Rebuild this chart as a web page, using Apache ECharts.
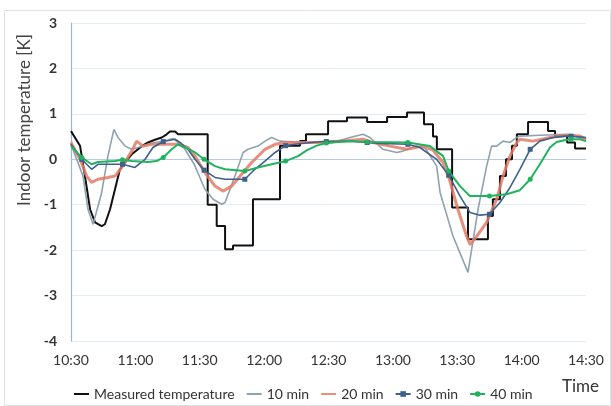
<!DOCTYPE html>
<html>
<head>
<meta charset="utf-8">
<script src="https://cdn.jsdelivr.net/npm/echarts@6/dist/echarts.min.js"></script>
<style>
html,body{margin:0;padding:0;background:#fff;}
#chart{width:611px;height:406px;}
</style>
</head>
<body>
<div id="chart"></div>
<script>
// Time axis: minutes after 10:30
const tickLabels = ['10:30','11:00','11:30','12:00','12:30','13:00','13:30','14:00','14:30'];
const seriesNames = ['Measured temperature','10 min','20 min','30 min','40 min'];
const yTitle = 'Indoor temperature [K]';
const xTitle = 'Time';

const measuredT = [0,4.2,6.5,8.9,11.2,14.3,15.8,18.2,20.5,22.8,25.2,28.3,33,35.9,39.1,42.3,44.6,46.1,48.5,49.9,63.7,63.7,67.9,67.9,71.8,71.8,75.5,75.5,84.8,84.8,97.4,97.4,106.7,106.7,109.5,109.5,119.8,119.8,128.6,128.6,138,138,147.3,147.3,156.6,156.6,164.5,164.5,168.7,168.7,170.5,170.5,177.6,177.6,185,185,194.3,194.3,196.6,196.6,199.9,199.9,202.7,202.7,205.5,205.5,207.8,207.8,213,213,222.3,222.3,225.6,225.6,231.2,231.2,234.9,234.9,240];
const measuredV = [0.62,0.30,-0.37,-1.10,-1.39,-1.47,-1.43,-1.10,-0.66,-0.22,-0.07,0.11,0.29,0.37,0.43,0.48,0.55,0.61,0.61,0.55,0.55,-1.0,-1.0,-1.47,-1.47,-1.98,-1.98,-1.9,-1.9,-0.88,-0.88,0.30,0.30,0.40,0.40,0.55,0.55,0.84,0.84,0.92,0.92,0.82,0.82,0.93,0.93,1.03,1.03,0.77,0.77,0.50,0.50,0.22,0.22,-1.06,-1.06,-1.76,-1.76,-1.25,-1.25,-0.88,-0.88,-0.37,-0.37,0.0,0.0,0.30,0.30,0.55,0.55,0.82,0.82,0.62,0.62,0.51,0.51,0.37,0.37,0.24,0.24];

const min10T = [0,5.6,7.9,10.3,14.3,17.2,20.0,21.9,25.2,28.3,31.2,35.9,39.1,43.8,47.5,49.9,53.1,56.9,57.8,62.4,66.2,70.2,71.8,76.4,80.2,82.5,87.1,90.4,93.5,97.4,106.7,122.1,130.0,136.1,139.3,145.4,151.8,154.7,161.1,165,170.4,172,178,185,189.7,193.7,196,198.4,201.3,204.6,207.7,209.2,218.6,231,240];
const min10V = [0.33,-0.37,-1.1,-1.43,-0.73,0.07,0.66,0.48,0.29,0.22,0.26,0.33,0.37,0.40,0.46,0.37,0.22,-0.07,-0.15,-0.66,-0.88,-0.99,-0.95,-0.37,0.15,0.22,0.29,0.40,0.48,0.40,0.37,0.37,0.48,0.55,0.48,0.22,0.15,0.18,0.29,0.25,-0.15,-0.73,-1.69,-2.49,-1.1,-0.15,0.29,0.29,0.40,0.37,0.48,0.51,0.53,0.55,0.44];

const min20T = [0,4.2,7.3,9.6,12.6,17.2,20.5,23.6,28.3,30.6,33.6,37.6,43.8,49.9,54.5,57.8,62.4,67.1,70.8,74.9,79.5,84.2,90.4,95.1,99.7,114.5,126.8,136.1,140.7,148.7,156.4,164,168.7,173.4,176.4,180.3,184.4,186,189.1,193.7,198.4,201.3,204.6,207.7,209.2,215.3,223.2,231,237.2,240];
const min20V = [0.37,0.0,-0.37,-0.51,-0.44,-0.40,-0.37,-0.18,0.18,0.40,0.29,0.33,0.33,0.33,0.26,0.07,-0.29,-0.59,-0.70,-0.59,-0.33,-0.07,0.22,0.33,0.37,0.37,0.40,0.44,0.37,0.29,0.22,0.29,0.20,-0.07,-0.45,-1.1,-1.7,-1.88,-1.69,-1.39,-0.88,-0.37,0.07,0.37,0.44,0.40,0.48,0.53,0.51,0.44];

const min30T = [0,5,9.6,12.6,20.5,24,29.8,34.5,38.2,43,48.5,50.8,54.5,57.8,62,67.1,71.8,81,85.7,90.4,95.1,100,104.4,114.2,119,130,138,144,157,162.6,170.4,176,181.3,185.9,190.6,195,199.9,204.6,209.2,214,218.5,224.6,231,233,240];
const min30V = [0.33,0.0,-0.22,-0.11,-0.11,-0.11,-0.18,0.0,0.26,0.39,0.44,0.37,0.22,0.0,-0.24,-0.40,-0.44,-0.44,-0.22,-0.04,0.15,0.30,0.33,0.38,0.39,0.40,0.37,0.35,0.33,0.26,0.0,-0.35,-0.81,-1.17,-1.23,-1.21,-0.95,-0.62,-0.22,0.22,0.40,0.48,0.51,0.51,0.48];

const min40T = [0,5,9.6,12.6,20.5,24,28.3,35.9,39.9,43,46.9,49.9,53.1,57.8,62,67.1,71.8,81,87.1,93.5,100,105.8,110,114.5,119,130,138,157,167.3,173.4,176,181.3,185.9,195,203,209.2,214,218.5,223.2,226.3,231,233,237.2,240];
const min40V = [0.29,0.04,-0.11,-0.06,-0.04,-0.01,-0.04,-0.06,-0.04,0.04,0.22,0.33,0.26,0.15,0.0,-0.15,-0.22,-0.26,-0.18,-0.11,-0.04,0.07,0.2,0.3,0.36,0.40,0.38,0.37,0.29,0.07,-0.26,-0.59,-0.81,-0.81,-0.77,-0.68,-0.44,-0.11,0.26,0.38,0.43,0.44,0.44,0.40];

// times at which the 30/40 min series show a marker
const markerTimes = [5,24,43,62,81,100,119,138,157,176,195,214,233];

function pairs(ts, vs){ return ts.map((t,i)=>[t, vs[i]]); }
function markerSize(size){
  return function(value){ return markerTimes.indexOf(value[0]) >= 0 ? size : 0; };
}

const chart = echarts.init(document.getElementById('chart'), null, {renderer:'canvas'});
const font = 'Lato, "Open Sans", sans-serif';

chart.setOption({
  animation:false,
  backgroundColor:'#fff',
  textStyle:{fontFamily:font},
  graphic:[{
    type:'rect', left:2, top:8, shape:{width:606, height:395},
    style:{fill:'none', stroke:'#e2e2e2', lineWidth:1}, silent:true
  },{
    type:'text', x:25, y:120, rotation:Math.PI/2,
    style:{text:yTitle, font:'17px ' + font, fill:'#444', align:'center', verticalAlign:'middle'}
  },{
    type:'text', left:562, top:378,
    style:{text:xTitle, font:'17px ' + font, fill:'#333'}
  }],
  grid:{left:71, right:25, top:23, bottom:65},
  legend:{
    left:68, top:382, itemGap:11, itemWidth:15, itemHeight:7,
    textStyle:{fontSize:14, color:'#333', fontFamily:font},
    data:[
      {name:seriesNames[0], itemStyle:{opacity:0}},
      {name:seriesNames[1], itemStyle:{opacity:0}},
      {name:seriesNames[2], itemStyle:{opacity:0}},
      {name:seriesNames[3]},
      {name:seriesNames[4]}
    ]
  },
  xAxis:{
    type:'value', min:0, max:240, interval:30,
    axisLine:{show:true, lineStyle:{color:'#b8cbe0', width:1}},
    axisTick:{show:false},
    splitLine:{show:false},
    axisLabel:{fontSize:14, color:'#333', margin:12, fontFamily:font,
      formatter:function(v){ return tickLabels[Math.round(v/30)]; }}
  },
  yAxis:{
    type:'value', min:-4, max:3, interval:1,
    axisLine:{show:true, lineStyle:{color:'#9db6cf', width:1.2}},
    axisTick:{show:false},
    splitLine:{show:true, lineStyle:{color:'#e4ecf4', width:1}},
    axisLabel:{fontSize:14, color:'#333', margin:14, fontFamily:font, fontWeight:'bold'}
  },
  series:[
    {name:seriesNames[0], type:'line', data:pairs(measuredT, measuredV), showSymbol:false, symbol:'none',
     lineStyle:{color:'#111', width:2}, itemStyle:{color:'#111'}},
    {name:seriesNames[1], type:'line', data:pairs(min10T, min10V), showSymbol:false, symbol:'none',
     lineStyle:{color:'#8ea2b0', width:1.6}, itemStyle:{color:'#8ea2b0'}},
    {name:seriesNames[2], type:'line', data:pairs(min20T, min20V), showSymbol:false, symbol:'none',
     lineStyle:{color:'#e47a65', width:3, opacity:0.85}, itemStyle:{color:'#e47a65'}},
    {name:seriesNames[3], type:'line', data:pairs(min30T, min30V), showSymbol:true, symbol:'rect',
     symbolSize:markerSize(5), lineStyle:{color:'#3f6089', width:1.6}, itemStyle:{color:'#3f6089'}},
    {name:seriesNames[4], type:'line', data:pairs(min40T, min40V), showSymbol:true, symbol:'circle',
     symbolSize:markerSize(5), lineStyle:{color:'#1fb35e', width:2}, itemStyle:{color:'#1fb35e'}}
  ]
});
</script>
</body>
</html>
